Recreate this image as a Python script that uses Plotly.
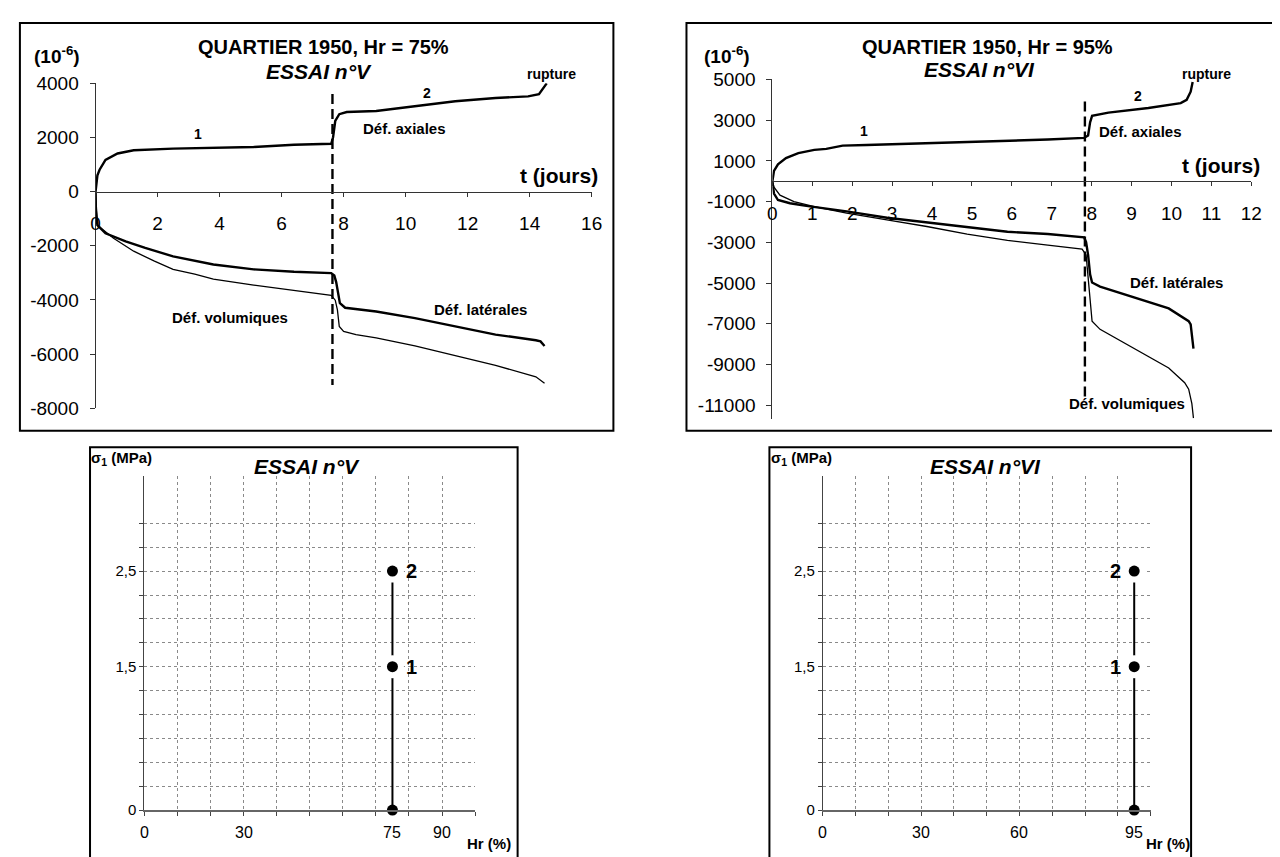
import plotly.graph_objects as go

# ---------------- DATA ----------------
# ESSAI n°V (Hr = 75 %) -- strains in 1e-6 vs time in days
t_ax_V = [0, 0.02, 0.06, 0.13, 0.32, 0.71, 1.23, 2.5, 3.8, 5.1, 6.4, 7.6, 7.66, 7.73, 7.86,
          8.1, 9.05, 10.3, 11.6, 12.9, 13.95, 14.3, 14.45, 14.55]
eps_ax_V = [0, 300, 600, 810, 1170, 1410, 1530, 1590, 1610, 1650, 1730, 1770, 2010, 2610, 2860,
            2940, 2980, 3160, 3340, 3460, 3520, 3600, 3820, 4000]
t_lat_V = [0, 0.01, 0.06, 0.32, 0.97, 1.6, 2.5, 3.8, 5.1, 6.4, 7.6, 7.7, 7.76, 7.82, 7.88,
           8.05, 9.05, 10.3, 11.6, 12.9, 14.2, 14.35, 14.48]
eps_lat_V = [0, -700, -1240, -1540, -1840, -2080, -2390, -2690, -2870, -2960, -3010, -3100,
             -3340, -3820, -4120, -4290, -4430, -4670, -4980, -5280, -5490, -5530, -5700]
t_vol_V = [0, 0.03, 0.06, 0.58, 1.23, 1.9, 2.5, 3.2, 3.8, 5.1, 6.4, 7.6, 7.73, 7.8, 7.86,
           8.0, 8.4, 9.05, 10.3, 11.6, 12.9, 14.2, 14.48]
eps_vol_V = [0, -760, -1240, -1720, -2200, -2570, -2870, -3050, -3230, -3450, -3650, -3830,
             -4010, -4370, -4980, -5160, -5280, -5400, -5700, -6060, -6420, -6840, -7080]
t_break_V = [7.64, 7.64]
eps_break_V = [3610, -7140]

# ESSAI n°VI (Hr = 95 %)
t_ax_VI = [0, 0.04, 0.14, 0.34, 0.65, 1.05, 1.35, 1.76, 2.36, 3.87, 5.39, 6.9, 7.81, 7.91,
           7.96, 8.01, 8.42, 9.42, 10.23, 10.38, 10.48, 10.53]
eps_ax_VI = [0, 510, 830, 1140, 1380, 1540, 1590, 1750, 1780, 1860, 1970, 2050, 2130, 2250,
             2890, 3210, 3370, 3600, 3840, 4000, 4400, 4870]
t_lat_VI = [0, 0.04, 0.14, 0.44, 0.85, 1.86, 2.87, 3.87, 4.88, 5.89, 6.9, 7.81, 7.86, 7.91,
            7.96, 8.01, 8.21, 8.92, 9.93, 10.43, 10.48, 10.55]
eps_lat_VI = [0, -600, -920, -1080, -1210, -1480, -1790, -2030, -2270, -2480, -2590, -2750,
              -2980, -3620, -4570, -4970, -5170, -5600, -6240, -6870, -7030, -8220]
t_vol_VI = [0, 0.04, 0.19, 0.54, 1.05, 1.86, 2.87, 3.87, 4.88, 5.89, 6.9, 7.76, 7.86, 7.91,
            7.96, 8.01, 8.21, 8.92, 9.93, 10.33, 10.43, 10.51, 10.55]
eps_vol_VI = [0, -290, -680, -1000, -1240, -1560, -1900, -2220, -2590, -2900, -3140, -3330,
              -3620, -4730, -5840, -6870, -7270, -8060, -9170, -9890, -10210, -10920, -11630]
t_break_VI = [7.83, 7.83]
eps_break_VI = [3920, -10760]

# sigma1 vs Hr paths
hr_V = [75, 75, 75]
sig_V = [0, 1.5, 2.5]
stage_V = ["", "1", "2"]
hr_VI = [95, 95, 95]
sig_VI = [0, 1.5, 2.5]
stage_VI = ["", "1", "2"]

# tick values / labels
yt_V = [4000, 2000, 0, -2000, -4000, -6000, -8000]
xt_V = [0, 2, 4, 6, 8, 10, 12, 14, 16]
yt_VI = [5000, 3000, 1000, -1000, -3000, -5000, -7000, -9000, -11000]
xt_VI = [0, 1, 2, 3, 4, 5, 6, 7, 8, 9, 10, 11, 12]
hr_lab_V = [0, 30, 75, 90]
hr_lab_VI = [0, 30, 60, 95]
hr_grid = [0, 10, 20, 30, 40, 50, 60, 70, 80, 90, 100]
sig_grid = [0, 0.25, 0.5, 0.75, 1.0, 1.25, 1.5, 1.75, 2.0, 2.25, 2.5, 2.75, 3.0]
sig_lab = {0: "0", 1.5: "1,5", 2.5: "2,5"}

# ---------------- LAYOUT HELPERS ----------------
W, H = 1280, 857
FONT = "Liberation Sans, Arial, sans-serif"


def fx(p):
    return p / W


def fy(p):
    return 1 - p / H


fig = go.Figure()


def strain_traces(xa, ya, t_ax, e_ax, t_lat, e_lat, t_vol, e_vol, t_b, e_b):
    fig.add_trace(go.Scatter(x=t_vol, y=e_vol, mode="lines", line=dict(color="black", width=1.3),
                             xaxis=xa, yaxis=ya, showlegend=False))
    fig.add_trace(go.Scatter(x=t_lat, y=e_lat, mode="lines", line=dict(color="black", width=2.4),
                             xaxis=xa, yaxis=ya, showlegend=False))
    fig.add_trace(go.Scatter(x=t_ax, y=e_ax, mode="lines", line=dict(color="black", width=2.4),
                             xaxis=xa, yaxis=ya, showlegend=False))
    fig.add_trace(go.Scatter(x=t_b, y=e_b, mode="lines",
                             line=dict(color="black", width=2.4, dash="10px,5px"),
                             xaxis=xa, yaxis=ya, showlegend=False))


strain_traces("x", "y", t_ax_V, eps_ax_V, t_lat_V, eps_lat_V, t_vol_V, eps_vol_V,
              t_break_V, eps_break_V)
strain_traces("x2", "y2", t_ax_VI, eps_ax_VI, t_lat_VI, eps_lat_VI, t_vol_VI, eps_vol_VI,
              t_break_VI, eps_break_VI)


def stress_traces(xa, ya, hr, sig, stages):
    fig.add_trace(go.Scatter(x=hr, y=sig, mode="lines", line=dict(color="black", width=2),
                             xaxis=xa, yaxis=ya, showlegend=False))
    hx = [h for h, s in zip(hr, stages) if s]
    hy = [v for v, s in zip(sig, stages) if s]
    fig.add_trace(go.Scatter(x=hx, y=hy, mode="markers",
                             marker=dict(color="white", size=23), cliponaxis=False,
                             xaxis=xa, yaxis=ya, showlegend=False))
    fig.add_trace(go.Scatter(x=hr, y=sig, mode="markers",
                             marker=dict(color="black", size=11), cliponaxis=False,
                             xaxis=xa, yaxis=ya, showlegend=False))


stress_traces("x3", "y3", hr_V, sig_V, stage_V)
stress_traces("x4", "y4", hr_VI, sig_VI, stage_VI)

# ---------------- AXES ----------------
dom_x1 = [fx(83.6), fx(586)]
dom_y1 = [fy(400), fy(67)]
rng_y1 = [-8000, 4000]
dom_x2 = [fx(769), fx(1254)]
rng_y2 = [-11650, 5000]
dom_y2 = [fy(410.6), fy(63)]
dom_x3 = [fx(133), fx(468)]
dom_y3 = [fy(812), fy(469)]
dom_x4 = [fx(820), fx(1152)]


def zero_pos(dom, rng):
    return dom[0] + (0 - rng[0]) / (rng[1] - rng[0]) * (dom[1] - dom[0])


axfont = dict(family=FONT, size=19, color="black")
common_top_x = dict(anchor="free", ticks="outside", ticklen=4, tickcolor="#333",
                    showline=True, linecolor="#333", linewidth=1, showgrid=False,
                    zeroline=False, tickfont=axfont, ticklabelstandoff=11)
common_top_y = dict(ticks="outside", ticklen=5, tickcolor="#333", showline=True,
                    linecolor="#333", linewidth=1, showgrid=False, zeroline=False,
                    tickfont=axfont, ticklabelstandoff=7)

fig.update_layout(
    xaxis=dict(domain=dom_x1, range=[0, 16], position=zero_pos(dom_y1, rng_y1),
               tickvals=xt_V, ticktext=[str(v) for v in xt_V], **common_top_x),
    yaxis=dict(domain=dom_y1, range=rng_y1, anchor="x",
               tickvals=yt_V, ticktext=[str(v) for v in yt_V], **common_top_y),
    xaxis2=dict(domain=dom_x2, range=[0, 12], position=zero_pos(dom_y2, rng_y2),
                tickvals=xt_VI, ticktext=[str(v) for v in xt_VI], **common_top_x),
    yaxis2=dict(domain=dom_y2, range=rng_y2, anchor="x2",
                tickvals=yt_VI, ticktext=[str(v) for v in yt_VI], **common_top_y),
)

grid_style = dict(showgrid=True, gridcolor="#8a8a8a", griddash="dot", gridwidth=1)
for xa, ya, dom in (("xaxis3", "yaxis3", dom_x3), ("xaxis4", "yaxis4", dom_x4)):
    xn = xa.replace("axis", "")
    yn = ya.replace("axis", "")
    fig.update_layout({
        xa: dict(domain=dom, range=[0, 100], anchor=yn, tickvals=hr_grid,
                 showticklabels=False, ticks="outside", ticklen=4, tickcolor="#444",
                 showline=True, linecolor="#666", linewidth=1.5, zeroline=False, **grid_style),
        ya: dict(domain=dom_y3, range=[0, 3.5], anchor=xn, tickvals=sig_grid,
                 ticktext=[sig_lab.get(v, "") for v in sig_grid],
                 ticks="outside", ticklen=4, tickcolor="#444", showline=True,
                 linecolor="#444", linewidth=1, zeroline=False,
                 tickfont=dict(family=FONT, size=15, color="black"), **grid_style),
    })

# ---------------- FRAMES ----------------
frames = [(7, 5, 608, 423), (682, 5, 1278, 423), (78, 440, 511, 870), (766, 440, 1193, 870)]
for x0, y0, x1, y1 in frames:
    fig.add_shape(type="rect", xref="paper", yref="paper", x0=fx(x0), x1=fx(x1),
                  y0=fy(y1), y1=fy(y0), line=dict(color="black", width=2), layer="below")


# ---------------- TEXT ----------------
def ann(text, x, y, xref="paper", yref="paper", size=15, xanchor="center", xshift=0, yshift=0):
    fig.add_annotation(text=text, x=x, y=y, xref=xref, yref=yref, showarrow=False,
                       xanchor=xanchor, yanchor="middle", xshift=xshift, yshift=yshift,
                       font=dict(family=FONT, size=size, color="black"))


# top-left
ann("<b>QUARTIER 1950, Hr = 75%</b>", fx(314), fy(30), size=20)
ann("<b><i>ESSAI n°V</i></b>", fx(310), fy(55), size=21)
ann("<b>(10<sup>-6</sup>)</b>", fx(45), fy(38), size=19)
ann("<b>1</b>", 3.32, 2130, "x", "y", size=14)
ann("<b>2</b>", 10.7, 3640, "x", "y", size=14)
ann("<b>rupture</b>", fx(545), fy(57), size=14)
ann("<b>Déf. axiales</b>", 9.95, 2340, "x", "y", size=15)
ann("<b>t (jours)</b>", 14.95, 580, "x", "y", size=21)
ann("<b>Déf. latérales</b>", 12.4, -4360, "x", "y", size=15)
ann("<b>Déf. volumiques</b>", 4.35, -4650, "x", "y", size=15)

# top-right
ann("<b>QUARTIER 1950, Hr = 95%</b>", fx(987), fy(30), size=20)
ann("<b><i>ESSAI n°VI</i></b>", fx(979), fy(53), size=21)
ann("<b>(10<sup>-6</sup>)</b>", fx(723), fy(38), size=19)
ann("<b>1</b>", 2.30, 2480, "x2", "y2", size=14)
ann("<b>2</b>", 9.16, 4190, "x2", "y2", size=14)
ann("<b>rupture</b>", fx(1209), fy(57), size=14)
ann("<b>Déf. axiales</b>", 9.23, 2430, "x2", "y2", size=15)
ann("<b>t (jours)</b>", 11.24, 760, "x2", "y2", size=21)
ann("<b>Déf. latérales</b>", 10.12, -4950, "x2", "y2", size=15)
ann("<b>Déf. volumiques</b>", 8.89, -10900, "x2", "y2", size=15)

# bottom panels
for xr, yr, hr, sig, stages, labs, side, title, tx, sx, hx in (
        ("x3", "y3", hr_V, sig_V, stage_V, hr_lab_V, 1, "ESSAI n°V", 298, 110, 482),
        ("x4", "y4", hr_VI, sig_VI, stage_VI, hr_lab_VI, -1, "ESSAI n°VI", 985, 798, 1170)):
    for v in labs:
        ann(str(v), v, 0, xr, yr, size=16, yshift=-22)
    for h, s, st in zip(hr, sig, stages):
        if st:
            ann("<b>%s</b>" % st, h, s, xr, yr, size=20, xshift=19 * side)
    ann("<b>Hr (%)</b>", fx(hx), fy(846), size=15)
    ann("<b><i>%s</i></b>" % title, fx(tx), fy(460), size=21)
    ann("<b>σ<sub>1</sub> (MPa)</b>", fx(sx), fy(452), size=15)

fig.update_layout(width=W, height=H, margin=dict(l=0, r=0, t=0, b=0),
                  paper_bgcolor="white", plot_bgcolor="white", showlegend=False,
                  font=dict(family=FONT, color="black"))

fig.write_html("out.html")
